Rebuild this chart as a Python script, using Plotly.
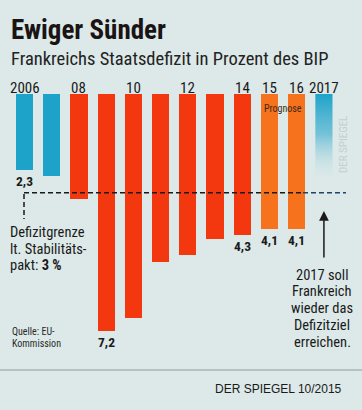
import plotly.graph_objects as go
import numpy as np

# ---- data ----
years = [2006, 2007, 2008, 2009, 2010, 2011, 2012, 2013, 2014, 2015, 2016, 2017]
year_labels = ["2006", "", "08", "", "10", "", "12", "", "14", "15", "16", "2017"]
deficit = [2.3, 2.5, 3.2, 7.2, 6.8, 5.1, 4.9, 4.4, 4.3, 4.1, 4.1, 2.7]
value_labels = ["2,3", "", "", "7,2", "", "", "", "", "4,3", "4,1", "4,1", ""]
kind = ["past", "past", "crisis", "crisis", "crisis", "crisis", "crisis", "crisis", "crisis",
        "forecast", "forecast", "target"]
limit = 3.0

W, H = 362, 410
BG = "#dce9e8"
colors = {"past": "#1da3c9", "crisis": "#f3380f", "forecast": "#f7721c", "target": "#1da3c9"}
FONT = "Liberation Sans Narrow, Roboto Condensed, Roboto, sans-serif"

def py(p):
    return 1 - p / H

def px(p):
    return p / W

# axis mapping: index 0 center at 24.5px, pitch 27.2px; value 0 at 94px, 32.9 px/unit
pitch = 27.22
x0px = 24.5
xr = [-x0px / pitch, (W - x0px) / pitch]
ppu = 32.9
top = 94
yr = [(H - top) / ppu, -top / ppu]

idx = np.arange(len(years))
bw = 0.63

fig = go.Figure()
main = [i for i in idx if kind[i] != "target"]
fig.add_trace(go.Bar(
    x=[idx[i] for i in main],
    y=[deficit[i] for i in main],
    width=bw,
    marker=dict(color=[colors[kind[i]] for i in main], line=dict(width=0)),
    text=[value_labels[i] for i in main],
    textposition="outside",
    textfont=dict(family=FONT, size=15, color="#1a1a1a", weight="bold"),
    cliponaxis=False,
    hoverinfo="skip",
))

# 2017 target bar with fading gradient
t = [i for i in idx if kind[i] == "target"][0]
fig.add_trace(go.Scatter(
    x=[t - bw / 2, t + bw / 2, t + bw / 2, t - bw / 2, t - bw / 2],
    y=[0, 0, deficit[t], deficit[t], 0],
    mode="lines", line=dict(width=0), fill="toself",
    fillgradient=dict(type="vertical",
                      colorscale=[[0, "rgba(29,163,201,1)"], [0.45, "rgba(80,180,210,0.75)"],
                                  [1, "rgba(220,233,232,0)"]],
                      start=0, stop=deficit[t]),
    hoverinfo="skip", showlegend=False,
))

shapes = []
# 3% limit line
xl0 = xr[0] + (24 / W) * (xr[1] - xr[0])
xmid = xr[0] + (303 / W) * (xr[1] - xr[0])
xl1 = xr[0] + (346 / W) * (xr[1] - xr[0])
shapes.append(dict(type="line", xref="x", yref="y", x0=xl0, x1=xmid, y0=limit, y1=limit,
                   line=dict(color="#1a1a1a", width=1.5, dash="5px,3px"), layer="above"))
shapes.append(dict(type="line", xref="x", yref="y", x0=xmid, x1=xl1, y0=limit, y1=limit,
                   line=dict(color="#22446a", width=1.5, dash="5px,3px"), layer="above"))
shapes.append(dict(type="line", xref="x", yref="paper", x0=xl0, x1=xl0, y0=py(194), y1=py(219),
                   line=dict(color="#1a1a1a", width=1.5, dash="5px,3px"), layer="above"))
# separator
shapes.append(dict(type="line", xref="paper", yref="paper", x0=0, x1=1, y0=py(370), y1=py(370),
                   line=dict(color="#8f9c9c", width=1)))

ann = []
ann.append(dict(text="<b>Ewiger Sünder</b>", x=px(9), y=py(30), xanchor="left", yanchor="middle",
                font=dict(family=FONT, size=27, color="#1a1414")))
ann.append(dict(text="Frankreichs Staatsdefizit in Prozent des BIP", x=px(9), y=py(59),
                xanchor="left", yanchor="middle", font=dict(family=FONT, size=18.5, color="#222")))
for i, lab in enumerate(year_labels):
    if lab:
        ann.append(dict(text=lab, x=idx[i], xref="x", y=py(88), xanchor="center", yanchor="middle",
                        font=dict(family=FONT, size=15, color="#1a1a1a")))
ann.append(dict(text="Prognose", x=px(283), y=py(108), xanchor="center", yanchor="middle",
                font=dict(family=FONT, size=10, color="#3a2a1a")))
for j, line in enumerate(["Defizitgrenze", "lt. Stabilitäts-", "pakt: <b>3 %</b>"]):
    ann.append(dict(text=line, x=px(8), y=py(232.5 + 16.5 * j), xanchor="left", yanchor="middle",
                    font=dict(family=FONT, size=14.5, color="#1a1a1a")))
for j, line in enumerate(["Quelle: EU-", "Kommission"]):
    ann.append(dict(text=line, x=px(10), y=py(331 + 12.5 * j), xanchor="left", yanchor="middle",
                    font=dict(family=FONT, size=10, color="#2a2a2a")))
for j, line in enumerate(["2017 soll", "Frankreich", "wieder das", "Defizitziel", "erreichen."]):
    ann.append(dict(text=line, x=px(322), y=py(275 + 16.8 * j), xanchor="center", yanchor="middle",
                    font=dict(family=FONT, size=14.5, color="#1a1a1a")))
# arrow
ann.append(dict(text="", x=idx[t], xref="x", y=py(211), ax=0, ay=48, showarrow=True,
                arrowhead=2, arrowsize=1.3, arrowwidth=1.5, arrowcolor="#1a1a1a"))
ann.append(dict(text="DER SPIEGEL", x=px(343), y=py(145), textangle=-90, xanchor="center",
                yanchor="middle", font=dict(family=FONT, size=11, color="#c3cfd0")))
ann.append(dict(text="DER SPIEGEL 10/2015", x=px(278), y=py(389), xanchor="center", yanchor="middle",
                font=dict(family="Liberation Sans, sans-serif", size=12, color="#1a1a1a")))
for a in ann:
    a.setdefault("xref", "paper")
    a.setdefault("yref", "paper")
    a.setdefault("showarrow", False)

fig.update_layout(
    width=W, height=H,
    margin=dict(l=0, r=0, t=0, b=0),
    paper_bgcolor=BG, plot_bgcolor=BG,
    showlegend=False,
    xaxis=dict(range=xr, visible=False, fixedrange=True),
    yaxis=dict(range=yr, visible=False, fixedrange=True),
    shapes=shapes, annotations=ann,
    bargap=0,
)
fig.write_html("out.html", config={"displayModeBar": False},
               post_script="document.body.style.margin='0';document.body.style.background='%s';" % BG)
